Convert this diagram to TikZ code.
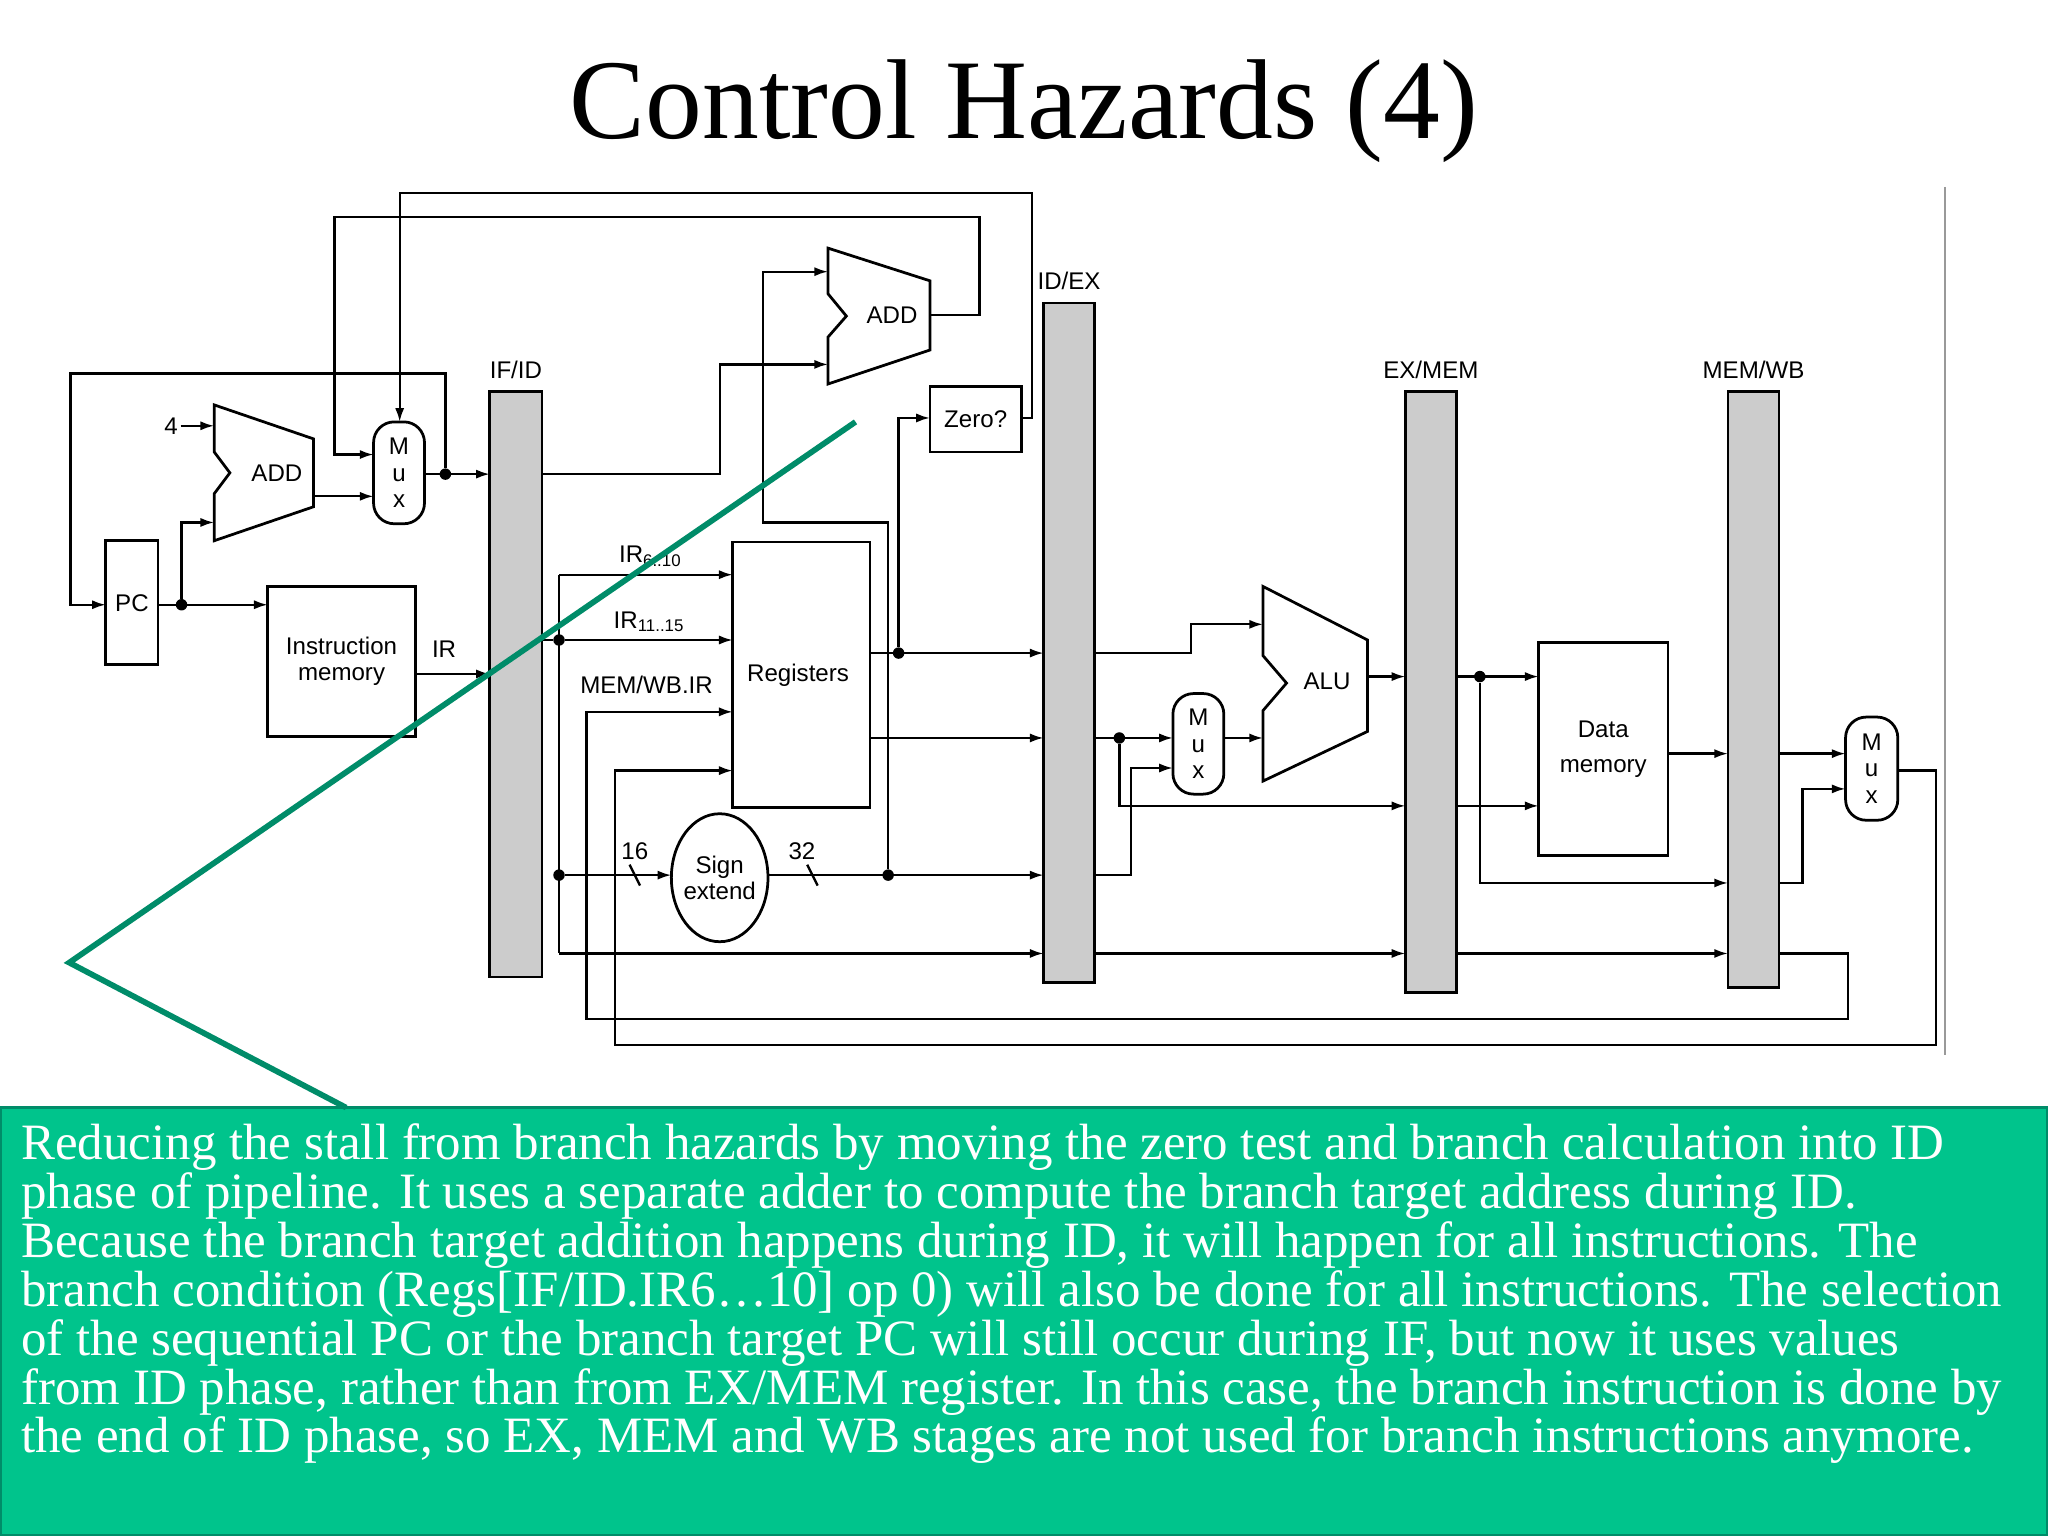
\documentclass[tikz,border=0pt]{standalone}
\usepackage{fontspec}
\setmainfont{Liberation Serif}
\newfontfamily\diagfont{Liberation Sans}
\usetikzlibrary{arrows.meta,positioning,fit,shapes.geometric}
\newcommand{\lbl}{\diagfont\fontsize{10.5}{11.5}\selectfont}
\definecolor{boxgreen}{RGB}{0,196,140}
\definecolor{linegreen}{RGB}{0,140,105}
\tikzset{
  wire/.style={draw, line width=1pt},
  arr/.style={wire, -{Latex[length=6pt,width=4pt]}},
  dot/.style={circle, fill, inner sep=0pt, minimum size=5pt},
  pipereg/.style={draw, fill=black!20, inner sep=0pt, line width=1.2pt},
  block/.style={draw, inner sep=0pt, line width=1.2pt, font=\lbl, align=center},
  muxbox/.style={draw, rounded corners=9pt, inner sep=0pt, line width=1.2pt, align=center, font=\lbl},
  unitshape/.style={draw, line width=1.2pt},
  tag/.style={font=\lbl, inner sep=1pt}
}
\begin{document}
\begin{tikzpicture}[x=0.02cm,y=-0.02cm]
  \useasboundingbox (0,0) rectangle (1568,1176);

  % title
  \node (title) at (784,85) {\fontsize{49.5}{52}\selectfont Control Hazards (4)};
  \draw[black!40, line width=0.6pt] (1489,143) -- (1489,808);

  % pipeline registers
  \node (ifid) [pipereg, fit={(375,300) (415,748)}] {};
  \node (idex) [pipereg, fit={(799,232) (838,752)}] {};
  \node (exmem) [pipereg, fit={(1076,300) (1115,760)}] {};
  \node (memwb) [pipereg, fit={(1323,300) (1362,756)}] {};
  \node[tag, above=4pt of ifid] {IF/ID};
  \node[tag, above=4pt of idex] {ID/EX};
  \node[tag, above=4pt of exmem] {EX/MEM};
  \node[tag, above=4pt of memwb] {MEM/WB};

  % blocks
  \node (pc) [block, fit={(81,414) (121,509)}] {};
  \node at (pc) [tag] {PC};
  \node (imem) [block, fit={(205,449) (318,564)}] {};
  \node at (imem) [tag, align=center] {Instruction\\memory};
  \node (ifmux) [muxbox, fit={(286,323) (325,401)}] {};
  \node at (ifmux) [tag, align=center] {M\\u\\x};
  \node (zero) [block, fit={(712,296) (782,346)}] {};
  \node at (zero) [tag] {Zero?};
  \node (regs) [block, fit={(561,415) (666,618)}] {};
  \node at (611,517) [tag] {Registers};
  \node (sext) [draw, ellipse, line width=1.2pt, minimum width=1.48cm, minimum height=1.96cm, inner sep=0pt] at (551,672) {};
  \node at (sext) [tag, align=center] {Sign\\extend};
  \node (exmux) [muxbox, fit={(898,531) (937,608)}] {};
  \node at (exmux) [tag, align=center] {M\\u\\x};
  \node (dmem) [block, fit={(1178,492) (1277,655)}] {};
  \node at (dmem) [tag, align=center] {Data\\[4pt]memory};
  \node (wbmux) [muxbox, fit={(1413,549) (1453,628)}] {};
  \node at (wbmux) [tag, align=center] {M\\u\\x};

  % adders and ALU
  \draw[unitshape] (164,310) -- (240,336) -- (240,388) -- (164,414) -- (164,378) -- (176,362) -- (164,346) -- cycle;
  \node (ifadd) at (212,362) [tag] {ADD};
  \draw[unitshape] (634,190) -- (712,215) -- (712,268) -- (634,294) -- (634,258) -- (648,242) -- (634,225) -- cycle;
  \node (idadd) at (683,241) [tag] {ADD};
  \draw[unitshape] (967,449) -- (1047,490) -- (1047,560) -- (967,598) -- (967,544) -- (985,523) -- (967,502) -- cycle;
  \node (alu) at (1016,522) [tag] {ALU};

  % dots
  \node[dot] (dpc) at (139,463) {};
  \node[dot] (dmux) at (341,363) {};
  \node[dot] (dir1) at (428,490) {};
  \node[dot] (dir2) at (428,670) {};
  \node[dot] (dreg) at (688,500) {};
  \node[dot] (dsx) at (680,670) {};
  \node[dot] (dex) at (857,565) {};
  \node[dot] (dalu) at (1133,518) {};

  % IF stage
  \node[tag] (four) at (131,326) {4};
  \draw[arr] (four) -- (164,326);
  \draw[arr] (121,463) -- (205,463);
  \draw[arr] (dpc) |- (164,400);
  \draw[arr] (240,380) -- (286,380);
  \draw[arr] (325,363) -- (375,363);
  \draw[arr] (dmux) |- (54,286) |- (81,463);
  \draw[arr] (318,516) -- (375,516);
  \node[tag] at (340,497) {IR};
  \draw[arr] (712,241) -- (750,241) |- (256,166) |- (286,348);
  \draw[arr] (782,320) -| (790,148) -| (306,323);

  % ID stage
  \draw[arr] (415,363) -| (551,279) -- (634,279);
  \draw[arr] (dsx) |- (584,400) |- (634,208);
  \draw[arr] (dreg) |- (712,320);
  \draw[arr] (666,500) -- (799,500);
  \draw[arr] (666,565) -- (799,565);
  \draw[wire] (415,490) -- (dir1);
  \draw[wire] (428,440) -- (428,730);
  \draw[arr] (428,440) -- (561,440);
  \node[tag] at (498,426) {IR\textsubscript{6..10}};
  \draw[arr] (dir1) -- (561,490);
  \node[tag] at (497,476) {IR\textsubscript{11..15}};
  \node[tag] at (495,524) {MEM/WB.IR};
  \draw[arr] (dir2) -- (514,670);
  \draw[wire] (482,662) -- (490,678);
  \node[tag] at (486,652) {16};
  \draw[arr] (588,670) -- (799,670);
  \draw[wire] (618,662) -- (626,678);
  \node[tag] at (614,652) {32};
  \draw[arr] (428,730) -- (799,730);

  % EX stage
  \draw[arr] (838,500) -| (912,478) -- (967,478);
  \draw[arr] (838,565) -- (898,565);
  \draw[arr] (dex) |- (1076,617);
  \draw[arr] (838,670) -| (866,588) -- (898,588);
  \draw[arr] (937,565) -- (967,565);
  \draw[arr] (1047,518) -- (1076,518);
  \draw[arr] (838,730) -- (1076,730);

  % MEM and WB stages
  \draw[arr] (1115,518) -- (1178,518);
  \draw[arr] (dalu) |- (1323,676);
  \draw[arr] (1115,617) -- (1178,617);
  \draw[arr] (1277,577) -- (1323,577);
  \draw[arr] (1115,730) -- (1323,730);
  \draw[arr] (1362,577) -- (1413,577);
  \draw[arr] (1362,676) -| (1380,604) -- (1413,604);
  \draw[arr] (1362,730) -| (1415,780) -| (449,545) -- (561,545);
  \draw[arr] (1453,590) -| (1482,800) -| (471,590) -- (561,590);

  % callout
  \node (note) [fill=boxgreen, draw=linegreen, line width=1.5pt, inner sep=0pt, fit={(0,848) (1568,1176)}] {};
  \draw[linegreen, line width=2.5pt] (655,323) -- (53,737) -- (265,848);
  \node (notetext) [anchor=north west, text=white, align=left, inner sep=0pt, font=\fontsize{22.2}{21.3}\selectfont] at (16,860)
  {Reducing the stall from branch hazards by moving the zero test and branch calculation into ID\\
   phase of pipeline. It uses a separate adder to compute the branch target address during ID.\\
   Because the branch target addition happens during ID, it will happen for all instructions. The\\
   branch condition (Regs[IF/ID.IR6\dots10] op 0) will also be done for all instructions. The selection\\
   of the sequential PC or the branch target PC will still occur during IF, but now it uses values\\
   from ID phase, rather than from EX/MEM register. In this case, the branch instruction is done by\\
   the end of ID phase, so EX, MEM and WB stages are not used for branch instructions anymore.};
\end{tikzpicture}
\end{document}
